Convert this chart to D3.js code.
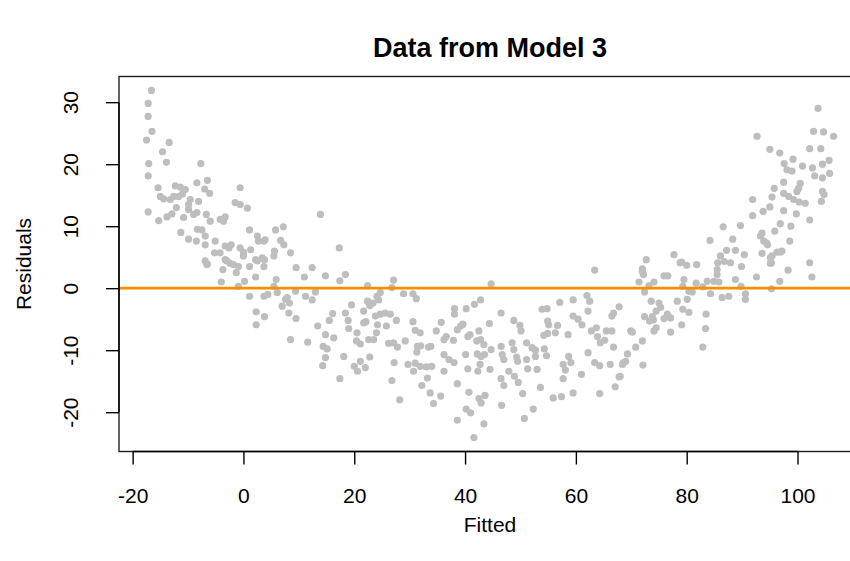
<!DOCTYPE html>
<html><head><meta charset="utf-8">
<script src="https://cdn.jsdelivr.net/npm/d3@7"></script>
<style>body{margin:0;background:#fff}svg{display:block}text{font-family:"Liberation Sans",Arial,Helvetica,sans-serif;fill:#000}</style>
</head><body><svg id="c" width="850" height="561"></svg>
<script>
// ---- data ----
const fitted = [-16.6,-17.2,-17.2,-16.5,-17.5,-13.4,-14.6,-13.9,-17.1,-17.2,-7.7,-15.4,-12.3,-11.4,-10.5,-15.0,-14.4,-13.2,-12.6,-11.7,-11.0,-8.4,-6.5,-7.0,-6.1,-9.6,-9.9,-8.1,-0.6,-1.5,-0.6,0.7,-17.2,-15.3,-13.8,-12.9,-12.1,-10.8,-9.9,-9.0,-8.4,-6.7,-6.0,-4.2,-3.3,-3.6,-11.3,-9.9,-8.5,-8.3,-7.5,-6.9,-6.9,-5.1,-3.3,-2.6,-0.6,0.0,1.1,2.5,3.7,5.8,7.2,6.7,-5.2,-4.2,1.3,2.2,3.4,5.5,-6.9,-6.5,-3.0,-2.2,0.0,2.7,3.9,7.3,2.5,3.8,5.6,-3.3,-2.4,-0.9,1.1,8.5,-6.6,-1.8,-3.7,-1.3,-4.0,-0.9,0.2,2.2,3.7,1.1,3.7,4.4,5.9,5.5,6.1,7.6,7.0,8.2,2.3,3.8,2.3,8.5,13.9,17.3,9.5,12.4,11.0,14.8,17.4,18.4,9.4,11.2,13.0,12.4,7.9,8.3,9.5,11.6,13.4,14.8,16.1,15.5,16.3,14.4,15.1,14.8,14.3,17.4,18.1,18.4,18.9,19.0,19.5,20.5,20.4,21.1,22.4,21.7,22.4,22.8,21.7,22.1,22.6,23.5,20.0,20.6,21.1,22.0,22.8,23.4,24.1,24.7,24.4,23.8,24.7,25.6,26.5,24.2,25.8,24.0,27.1,26.8,27.6,28.9,30.6,31.2,26.2,27.1,27.8,29.2,27.2,26.8,28.2,30.6,31.0,31.9,31.4,32.0,31.3,29.7,31.0,30.7,31.9,33.0,34.0,33.2,32.2,33.7,34.3,35.6,33.4,33.8,34.8,35.7,36.2,36.6,36.2,36.2,37.1,38.0,38.1,38.1,38.6,38.6,38.6,63.4,44.7,40.2,41.7,42.8,39.2,39.6,40.5,40.9,42.5,42.8,42.1,43.4,44.4,46.5,37.9,40.1,40.5,42.2,42.9,43.5,44.7,42.7,42.3,44.5,40.7,40.2,41.0,42.5,43.6,42.9,43.4,41.6,46.5,46.7,47.0,47.9,46.5,47.0,46.6,48.8,49.9,50.1,48.5,48.8,49.3,49.5,48.9,49.6,50.4,51.1,51.1,51.3,52.1,52.7,52.7,53.0,52.3,50.7,53.6,53.9,54.8,54.9,55.1,54.2,54.9,56.7,56.3,54.3,54.7,57.1,58.6,58.7,59.1,57.7,58.1,57.7,55.9,57.4,59.5,59.5,59.5,60.4,61.1,61.0,62.2,62.0,62.5,62.2,62.8,63.7,63.9,64.4,65.2,65.5,66.5,66.8,63.4,64.3,64.3,66.2,66.5,66.8,67.8,67.8,67.1,68.4,69.0,69.3,69.9,72.7,72.0,72.2,71.4,72.4,73.2,74.1,73.6,75.0,75.3,74.5,75.9,76.6,76.5,77.1,75.9,73.8,72.4,73.3,74.0,74.5,74.1,77.1,79.1,78.3,79.3,80.4,80.1,79.3,79.5,80.4,81.0,80.0,78.8,81.8,81.7,82.9,83.7,84.3,83.5,83.4,82.9,85.5,85.5,84.9,85.8,86.4,87.6,85.6,86.8,87.9,88.8,89.9,89.8,90.6,90.6,92.6,95.3,95.3,96.8,98.3,102.2,102.6,70.2,72.0,70.8,68.6,68.0,72.1,103.7,102.9,104.7,106.5,92.7,95.0,96.8,102.2,104.2,97.6,99.2,98.1,99.0,100.9,102.7,104.5,105.7,103.1,104.5,105.8,97.5,100.5,100.2,95.8,95.4,97.5,98.4,99.3,99.9,101.4,100.3,104.5,104.8,104.3,95.0,93.8,91.9,91.9,97.5,99.8,102.2,96.9,98.8,95.9,93.3,93.9,94.4,94.6,93.6,98.6,89.7,86.6,84.2,88.3,88.8,87.2,86.1,90.4,93.6,95.4,96.9,96.3,97.2,95.1,95.1,77.7,79.1,72.0];
const residuals = [31.9,29.8,27.7,25.3,23.9,23.5,22.0,20.3,20.1,18.1,20.1,16.2,16.5,16.3,15.9,14.8,14.4,14.3,14.8,14.8,15.2,17.0,17.4,16.0,15.3,14.3,13.5,14.0,16.2,13.8,13.5,12.9,12.3,10.9,11.5,12.0,13.0,11.4,12.7,11.9,12.2,11.9,10.8,11.1,11.5,10.8,9.0,7.9,7.6,9.5,9.4,8.4,7.0,7.6,6.8,6.5,6.5,5.8,9.4,8.4,7.6,9.4,9.9,7.7,5.7,5.7,6.2,4.6,4.9,5.2,4.4,3.9,4.4,7.0,5.2,7.6,7.8,7.0,4.4,4.6,6.0,4.6,4.0,3.5,3.5,5.7,3.8,3.8,3.0,2.5,1.0,0.3,1.1,1.8,3.5,-1.3,-1.3,-1.0,1.4,0.3,-0.7,-1.8,-2.9,-4.0,-3.8,-4.6,-5.9,-8.3,11.9,6.5,3.3,3.3,1.8,2.0,1.2,2.2,-0.5,-1.3,-0.6,-1.9,-1.5,-2.4,-4.9,-8.7,-6.1,-7.5,-4.1,-5.2,-8.0,-9.4,-9.8,-11.2,-12.5,-14.6,-11.0,-4.0,-5.2,-6.5,-2.7,-7.2,-8.5,-9.0,0.4,-3.7,-2.1,-2.8,-5.6,-5.4,-8.3,-8.3,-12.6,-13.4,-11.8,-12.8,-11.1,-2.4,-1.3,-0.7,-1.9,-4.5,-4.2,-4.0,-4.2,-5.9,-6.1,-7.2,1.3,0.1,-5.2,-0.9,-0.9,-1.7,-8.9,-8.8,-9.5,-8.5,-12.0,-14.9,-18.0,-5.4,-6.8,-7.2,-9.4,-9.3,-10.3,-12.3,-12.1,-13.4,-12.6,-12.7,-12.6,-14.5,-15.7,-16.9,-18.6,-17.4,-9.5,-9.4,-6.9,-5.5,-8.3,-7.8,-10.7,-13.4,-11.5,-12.0,-3.3,-4.2,-6.7,-15.4,-21.3,2.9,0.7,-3.3,-2.6,-1.9,-6.1,-5.8,-7.8,-7.5,-6.9,-8.3,-8.5,-9.1,-5.7,-4.0,-8.4,-10.7,-13.0,-10.6,-11.0,-10.7,-9.9,-12.3,-13.4,-13.1,-16.8,-19.5,-20.1,-17.8,-17.3,-18.5,-21.9,-24.1,-9.4,-10.7,-11.5,-13.4,-14.6,-15.7,-18.9,-5.2,-6.0,-6.9,-8.8,-9.9,-11.1,-11.8,-14.2,-15.2,-17.0,-8.8,-11.5,-13.0,-9.6,-10.0,-11.0,-13.1,-19.5,-21.0,-16.0,-3.4,-3.3,-5.3,-5.9,-7.6,-7.3,-6.0,-7.2,-9.8,-10.9,-2.3,-7.5,-11.0,-12.0,-12.3,-13.2,-14.6,-17.7,-17.5,-16.9,-1.9,-4.5,-5.0,-5.9,-13.9,-3.7,-1.2,-2.1,-10.4,-6.9,-6.4,-7.8,-8.8,-8.4,-6.9,-6.9,-9.5,-12.0,-12.5,-17.0,-12.3,-4.5,-4.0,-3.0,-14.3,-15.9,-12.3,-11.8,-10.6,-6.9,4.6,2.7,2.2,1.0,-0.6,0.4,1.0,-2.1,-2.4,-3.1,-3.7,2.0,2.0,-4.2,-4.8,-4.9,-4.6,-4.6,-5.3,-5.1,-6.4,-6.9,-7.1,-5.9,-2.1,-3.4,-3.9,-1.8,0.3,1.4,-0.5,-0.6,3.7,4.1,3.8,0.8,0.2,1.1,-0.9,-4.2,-6.5,-9.5,3.0,2.2,1.1,1.0,-1.5,-1.3,4.1,4.3,4.1,1.4,3.5,0.3,-0.9,-1.8,1.8,4.1,-0.1,1.1,2.9,4.1,1.8,-7.1,-8.5,-9.5,-12.0,-14.2,-12.4,29.0,25.3,25.2,24.5,24.5,22.4,21.8,22.5,22.5,20.1,20.8,19.1,18.9,19.7,19.4,20.0,20.6,18.1,17.8,18.5,17.1,16.9,16.1,16.1,14.7,15.3,14.8,14.3,15.6,13.7,13.9,15.6,15.1,14.0,13.1,12.4,11.7,14.3,12.5,12.0,11.0,10.4,10.0,9.2,8.4,7.6,7.3,7.0,8.9,7.6,10.1,9.9,7.7,7.9,6.1,6.1,5.2,5.4,5.6,5.2,5.8,5.8,6.0,4.9,4.0,5.4,4.2,3.1];
const xTicks = [-20, 0, 20, 40, 60, 80, 100];
const yTicks = [-20, -10, 0, 10, 20, 30];
const hLine = [0];
const titleText = "Data from Model 3", xLabel = "Fitted", yLabel = "Residuals";

// ---- layout ----
const plot = {left: 119, top: 76.5, right: 861, bottom: 451.5};
function rlim(v){ const e = d3.extent(v), p = (e[1]-e[0])*0.04; return [e[0]-p, e[1]+p]; }
const x = d3.scaleLinear().domain(rlim(fitted)).range([plot.left, plot.right]);
const y = d3.scaleLinear().domain(rlim(residuals)).range([plot.bottom, plot.top]);
const svg = d3.select("#c");
const pts = fitted.map((f,i)=>({f, r: residuals[i]}));
const fmt = d => String(d);   // R-style hyphen minus

svg.append("defs").append("clipPath").attr("id","pc").append("rect")
  .attr("x",plot.left).attr("y",plot.top).attr("width",plot.right-plot.left).attr("height",plot.bottom-plot.top);

const g = svg.append("g").attr("clip-path","url(#pc)");
g.selectAll("circle").data(pts).join("circle")
  .attr("cx",d=>x(d.f)).attr("cy",d=>y(d.r)).attr("r",3.6).attr("fill","#BEBEBE");
g.selectAll("line.h").data(hLine).join("line").attr("class","h")
  .attr("x1",plot.left).attr("x2",plot.right).attr("y1",d=>y(d)).attr("y2",d=>y(d))
  .attr("stroke","#FF8C00").attr("stroke-width",2.8);

// box
svg.append("rect").attr("x",plot.left).attr("y",plot.top)
  .attr("width",plot.right-plot.left).attr("height",plot.bottom-plot.top)
  .attr("fill","none").attr("stroke","#222").attr("stroke-width",1.4);

// x axis
const xa = svg.append("g").attr("transform",`translate(0,${plot.bottom})`)
  .call(d3.axisBottom(x).tickValues(xTicks).tickFormat(fmt).tickSize(13).tickPadding(24));
xa.select(".domain").remove();
xa.append("line").attr("x1",x(xTicks[0])).attr("x2",x(xTicks[xTicks.length-1])).attr("stroke","#000").attr("stroke-width",1.4);
xa.selectAll(".tick line").attr("stroke","#000").attr("stroke-width",1.4);
xa.selectAll(".tick text").attr("font-size",21).attr("font-family","Liberation Sans, Arial, sans-serif").attr("fill","#000");

// y axis
const ya = svg.append("g").attr("transform",`translate(${plot.left},0)`)
  .call(d3.axisLeft(y).tickValues(yTicks).tickFormat(fmt).tickSize(13));
ya.select(".domain").remove();
ya.append("line").attr("y1",y(yTicks[0])).attr("y2",y(yTicks[yTicks.length-1])).attr("stroke","#000").attr("stroke-width",1.4);
ya.selectAll(".tick line").attr("stroke","#000").attr("stroke-width",1.4);
ya.selectAll(".tick text").remove();
ya.selectAll(".tick").append("text")
  .attr("transform","translate(-41,0) rotate(-90)").attr("text-anchor","middle")
  .attr("font-size",21).attr("font-family","Liberation Sans, Arial, sans-serif").attr("fill","#000")
  .text(fmt);

const cx = (plot.left+plot.right)/2;
svg.append("text").attr("x",cx).attr("y",57).attr("text-anchor","middle")
  .attr("font-size",27).attr("font-weight","bold").text(titleText);
svg.append("text").attr("x",cx).attr("y",532).attr("text-anchor","middle")
  .attr("font-size",21).text(xLabel);
svg.append("text").attr("transform",`translate(31,${(plot.top+plot.bottom)/2}) rotate(-90)`)
  .attr("text-anchor","middle").attr("font-size",21).text(yLabel);
</script></body></html>
